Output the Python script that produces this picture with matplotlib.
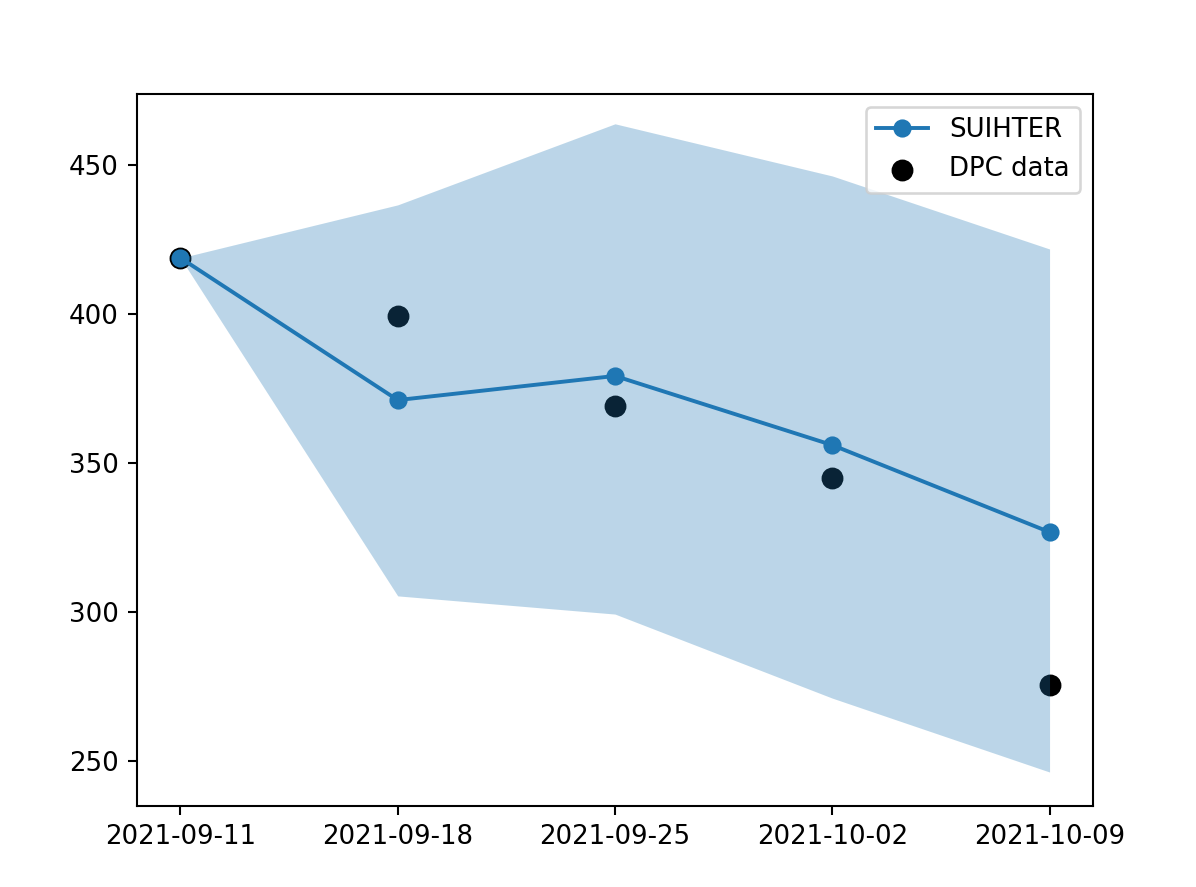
import matplotlib
matplotlib.use("Agg")
import matplotlib.pyplot as plt
import matplotlib.dates as mdates
import pandas as pd

# weekly dates shown on the x axis
dates = pd.to_datetime(["2021-09-11", "2021-09-18", "2021-09-25", "2021-10-02", "2021-10-09"])

suihter = [418.8, 371.1, 379.2, 356.0, 326.8]
band_low = [418.8, 305.4, 299.3, 271.1, 246.3]
band_high = [418.8, 436.6, 463.8, 446.3, 421.8]
dpc_data = [418.8, 399.3, 369.1, 345.0, 275.5]

DPI = 187
fig = plt.figure(figsize=(1196 / DPI, 887 / DPI), dpi=DPI)
ax = fig.add_axes([137 / 1196, 1 - 806 / 887, (1093 - 137) / 1196, (806 - 94) / 887])

dpc = ax.scatter(dates, dpc_data, color="black", s=55, label="DPC data")
ax.fill_between(dates, band_low, band_high, color="C0", alpha=0.3, linewidth=0)
line, = ax.plot(dates, suihter, "o-", color="C0", label="SUIHTER")

ax.set_xticks(dates)
ax.xaxis.set_major_formatter(mdates.DateFormatter("%Y-%m-%d"))
ax.set_yticks([250, 300, 350, 400, 450])
ax.set_ylim(234.9, 473.8)
ax.legend(handles=[line, dpc], loc="upper right")

fig.savefig("out.png", dpi=DPI)
